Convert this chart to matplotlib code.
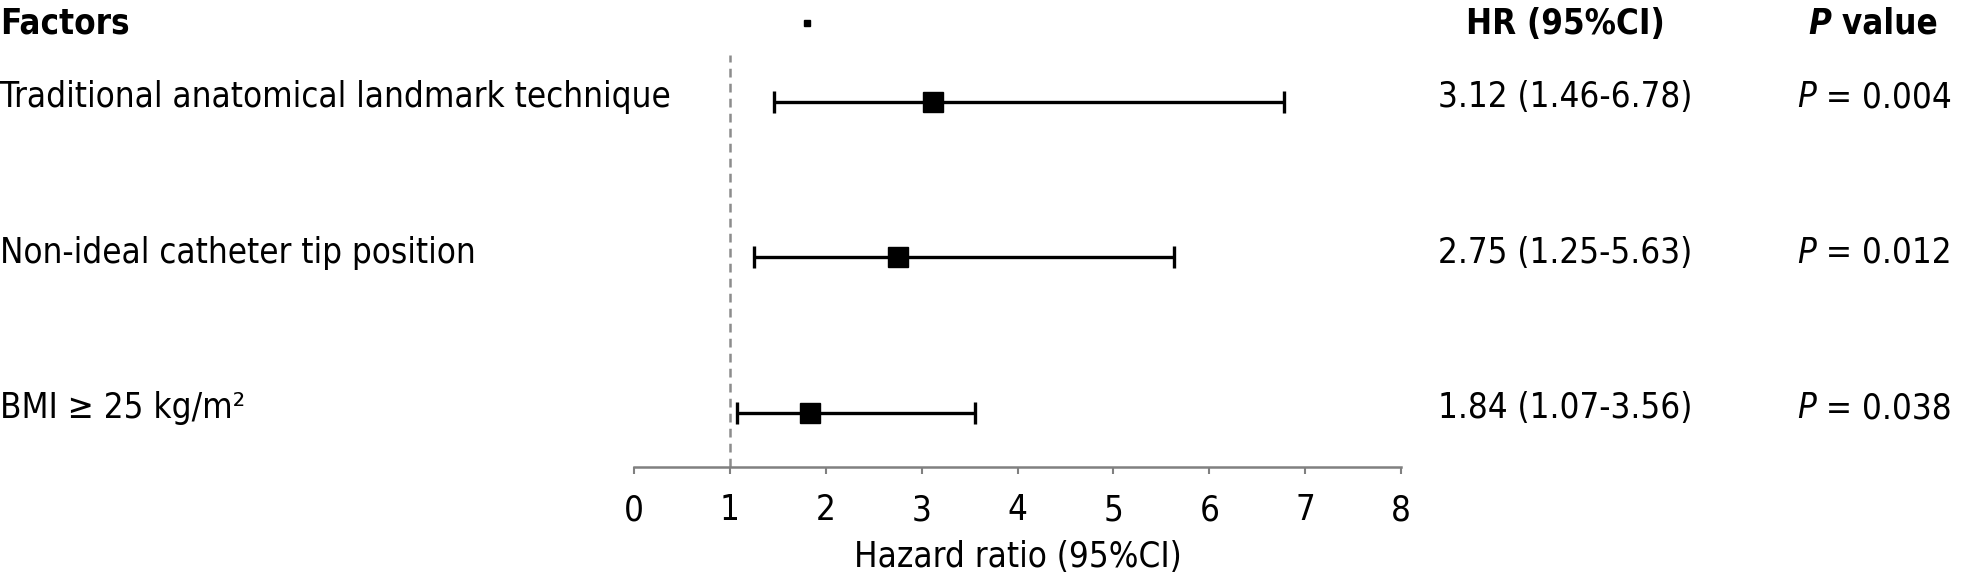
import matplotlib
matplotlib.use("Agg")
import matplotlib.pyplot as plt
import matplotlib.transforms as mtransforms

factors = ["Traditional anatomical landmark technique",
           "Non-ideal catheter tip position",
           "BMI \u2265 25 kg/m\u00b2"]
hr = [3.12, 2.75, 1.84]
ci_low = [1.46, 1.25, 1.07]
ci_high = [6.78, 5.63, 3.56]
p_values = ["0.004", "0.012", "0.038"]
xticks = [0, 1, 2, 3, 4, 5, 6, 7, 8]

FS = 25
plt.rcParams["font.family"] = "DejaVu Sans"
plt.rcParams["font.stretch"] = "condensed"

W, H = 1962, 585
fig = plt.figure(figsize=(W / 100, H / 100), dpi=100)
ax = fig.add_axes([634 / W, 1 - 467 / H, (1401 - 634) / W, (467 - 55) / H])

rows = list(range(1, len(factors) + 1))
err = [[h - l for h, l in zip(hr, ci_low)], [u - h for h, u in zip(hr, ci_high)]]
ax.errorbar(hr, rows, xerr=err, fmt="s", color="black", ms=15, lw=2.4,
            capsize=8, capthick=2.4, zorder=3)
ax.axvline(1, color="#8c8c8c", lw=1.8, ls=(0, (3.5, 2.5)), zorder=1)

ax.set_xlim(0, 8)
ax.set_ylim(3.347, 0.70)
ax.set_xticks(xticks)
ax.tick_params(axis="x", direction="out", length=5, width=1.5, color="#808080",
               labelsize=FS, pad=14)
ax.set_yticks([])
for s in ["top", "right", "left"]:
    ax.spines[s].set_visible(False)
ax.spines["bottom"].set_color("#808080")
ax.spines["bottom"].set_linewidth(1.8)
ax.set_xlabel("Hazard ratio (95%CI)", fontsize=FS, labelpad=9)

renderer = fig.canvas.get_renderer()


def p_text(x_px, y, rest, transform, **kw):
    # italic P followed by plain text, placed right after it
    t = fig.text(x_px / W, y, "P", transform=transform, fontsize=FS,
                 style="italic", va="center", ha="left", **kw)
    bb = t.get_window_extent(renderer)
    fig.text(bb.x1 / W, y, rest, transform=transform, fontsize=FS,
             va="center", ha="left", **kw)


# table columns: x in figure fraction, y in data
tr = mtransforms.blended_transform_factory(fig.transFigure, ax.transData)
head_y = 1 - 24 / H
fig.text(0.0, head_y, "Factors", fontsize=FS, weight="bold", va="center", ha="left")
fig.text(1565 / W, head_y, "HR (95%CI)", fontsize=FS, weight="bold", va="center", ha="center")
p_text(1808, head_y, " value", fig.transFigure, weight="bold")

for r, f, h, lo, hi, p in zip(rows, factors, hr, ci_low, ci_high, p_values):
    ax.text(0.0, r - 0.03, f, transform=tr, fontsize=FS, va="center", ha="left")
    ax.text(1565 / W, r - 0.03, f"{h:.2f} ({lo:.2f}-{hi:.2f})", transform=tr,
            fontsize=FS, va="center", ha="center")
    p_text(1797, r - 0.03, f" = {p}", tr)

# small legend swatch at top
ax.plot([], [], "s", color="black", ms=4, label=" ")
fig.legend(loc="center", bbox_to_anchor=(807 / W, 1 - 23 / H), frameon=False,
           handlelength=0.5, handletextpad=0, fontsize=2, borderpad=0)

fig.savefig("out.png", dpi=100)
